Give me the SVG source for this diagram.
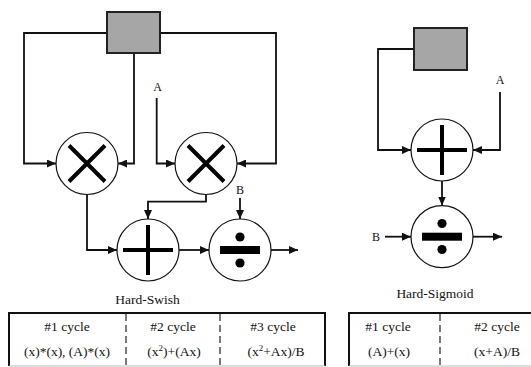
<svg xmlns="http://www.w3.org/2000/svg" width="531" height="367" viewBox="0 0 531 367">
<style>
.t{font-family:"Liberation Serif","Times New Roman",serif;fill:#111;text-anchor:middle}
.ln{fill:none;stroke:#111;stroke-width:1.8}
.box{fill:#a6a6a6;stroke:#222;stroke-width:2}
.c{fill:#fff;stroke:#111;stroke-width:1.2}
.sym{stroke:#000;stroke-width:4;fill:none}
.dash{stroke:#222;stroke-width:1.2;stroke-dasharray:7,4}
.tb{fill:none;stroke:#111;stroke-width:2}
</style>
<defs>
<marker id="ar" markerWidth="10" markerHeight="8" refX="9" refY="4" orient="auto" markerUnits="userSpaceOnUse">
<path d="M0,0 L9,4 L0,8 Z" fill="#111"/>
</marker>
</defs>
<g id="connectors" class="ln" marker-end="url(#ar)">
<path d="M107,33 H24 V163.5 H56"/>
<path d="M134,53 V163.5 H118"/>
<path d="M160,33 H276 V163.5 H237"/>
<path d="M156.7,98 V163.5 H175"/>
<path d="M87,194.5 V250 H117"/>
<path d="M206,194.5 V201.7 H148 V219"/>
<path d="M240,198 V219"/>
<path d="M179,250 H209"/>
<path d="M271,250 H298"/>
<path d="M414,49 H378 V150 H411"/>
<path d="M500,92 V150 H473"/>
<path d="M442,181 V205.5"/>
<path d="M385,236.7 H411"/>
<path d="M473,236.7 H502"/>
</g>
<g id="box1"><rect class="box" x="107" y="12" width="53" height="41"/></g>
<g id="mul1"><circle class="c" cx="87" cy="163.5" r="31"/><path class="sym" d="M69,145.5 L105,181.5 M105,145.5 L69,181.5"/></g>
<g id="mul2"><circle class="c" cx="206" cy="163.5" r="31"/><path class="sym" d="M188,145.5 L224,181.5 M224,145.5 L188,181.5"/></g>
<g id="add1"><circle class="c" cx="148" cy="250" r="31"/><path class="sym" d="M123,250 H173 M148,225 V275"/></g>
<g id="div1"><circle class="c" cx="240" cy="250" r="31"/><rect x="220" y="246" width="40" height="8" fill="#000"/><circle cx="240" cy="237" r="4.6" fill="#000"/><circle cx="240" cy="263" r="4.6" fill="#000"/></g>
<g id="labelA1"><text class="t" x="157.5" y="91" font-size="12">A</text></g>
<g id="labelB1"><text class="t" x="240" y="194" font-size="12">B</text></g>
<g id="title1"><text class="t" x="147.5" y="304" font-size="13.5">Hard-Swish</text></g>
<g id="box2"><rect class="box" x="414" y="28" width="53" height="42"/></g>
<g id="add2"><circle class="c" cx="442" cy="150" r="31"/><path class="sym" d="M417,150 H467 M442,125 V175"/></g>
<g id="div2"><circle class="c" cx="442" cy="236.7" r="31"/><rect x="422" y="232.7" width="40" height="8" fill="#000"/><circle cx="442" cy="223.5" r="4.6" fill="#000"/><circle cx="442" cy="249.5" r="4.6" fill="#000"/></g>
<g id="labelA2"><text class="t" x="500" y="84" font-size="12">A</text></g>
<g id="labelB2"><text class="t" x="376" y="241" font-size="12">B</text></g>
<g id="title2"><text class="t" x="435" y="298" font-size="13.5">Hard-Sigmoid</text></g>
<g id="table1">
<path class="tb" d="M9,366 V313 H325 V366"/>
<path d="M9,366 H325" stroke="#bbb" stroke-width="1"/>
<line class="dash" x1="126" y1="314" x2="126" y2="366"/>
<line class="dash" x1="220" y1="314" x2="220" y2="366"/>
<text class="t" x="67" y="331" font-size="13.5">#1 cycle</text>
<text class="t" x="173" y="331" font-size="13.5">#2 cycle</text>
<text class="t" x="273" y="331" font-size="13.5">#3 cycle</text>
<text class="t" x="67" y="356" font-size="13.5">(x)*(x), (A)*(x)</text>
<text class="t" x="174" y="356" font-size="13.5">(x<tspan font-size="9" dy="-5">2</tspan><tspan dy="5">)+(Ax)</tspan></text>
<text class="t" x="276" y="356" font-size="13.5">(x<tspan font-size="9" dy="-5">2</tspan><tspan dy="5">+Ax)/B</tspan></text>
</g>
<g id="table2">
<path class="tb" d="M349,366 V313 H531"/>
<path d="M349,366 H531" stroke="#bbb" stroke-width="1"/>
<line class="dash" x1="440" y1="314" x2="440" y2="366"/>
<text class="t" x="388" y="331" font-size="13.5">#1 cycle</text>
<text class="t" x="497" y="331" font-size="13.5">#2 cycle</text>
<text class="t" x="389" y="356" font-size="13.5">(A)+(x)</text>
<text class="t" x="497" y="356" font-size="13.5">(x+A)/B</text>
</g>
</svg>
